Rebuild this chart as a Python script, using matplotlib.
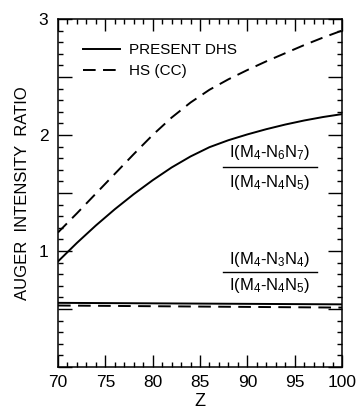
import matplotlib
matplotlib.use("Agg")
import matplotlib.pyplot as plt
from matplotlib.ticker import MultipleLocator, FixedLocator
from matplotlib.lines import Line2D

plt.rcParams['font.family'] = ['Liberation Sans', 'DejaVu Sans']
plt.rcParams['mathtext.fontset'] = 'custom'
plt.rcParams['mathtext.rm'] = 'Liberation Sans'
plt.rcParams['mathtext.it'] = 'Liberation Sans:italic'

# Atomic number
Z = [70, 72, 74, 76, 78, 80, 82, 84, 86, 88, 90, 92, 94, 96, 98, 100]
# I(M4-N6N7)/I(M4-N4N5)
dhs_67 = [0.91, 1.07, 1.22, 1.36, 1.49, 1.61, 1.72, 1.815, 1.895, 1.955,
          2.005, 2.05, 2.09, 2.125, 2.155, 2.18]
hs_67 = [1.16, 1.325, 1.495, 1.665, 1.835, 2.00, 2.15, 2.28, 2.39, 2.48,
         2.56, 2.635, 2.705, 2.775, 2.84, 2.90]
# I(M4-N3N4)/I(M4-N4N5)
Z_low = [70, 100]
dhs_34 = [0.553, 0.540]
hs_34 = [0.530, 0.512]

series_labels = ["PRESENT DHS", "HS (CC)"]
x_ticks = [70, 75, 80, 85, 90, 95, 100]
y_ticks = [1, 2, 3]

fig = plt.figure(figsize=(3.59, 4.13), dpi=100)
ax = fig.add_axes([0.1616, 0.1114, 0.791, 0.8426])

lw = 1.4
dash = (0, (6.5, 3.8))
ax.plot(Z, dhs_67, color='black', lw=lw, label=series_labels[0])
ax.plot(Z, hs_67, color='black', lw=lw, linestyle=dash, label=series_labels[1])
ax.plot(Z_low, dhs_34, color='black', lw=lw)
ax.plot(Z_low, hs_34, color='black', lw=lw, linestyle=dash)

ax.set_xlim(70, 100)
ax.set_ylim(0, 3)

ax.xaxis.set_major_locator(FixedLocator(x_ticks))
ax.xaxis.set_minor_locator(MultipleLocator(1))
ax.yaxis.set_minor_locator(MultipleLocator(0.1))
ax.set_xticklabels([str(v) for v in x_ticks])
half_steps = [0.5 * i for i in range(7)]
ax.set_yticks(half_steps)
ax.set_yticklabels([str(int(v)) if v in y_ticks else '' for v in half_steps])

ax.tick_params(which='both', direction='in', top=True, right=True, width=1.0,
               labelsize=12.5)
ax.tick_params(axis='x', which='major', length=8.5, pad=6)
ax.tick_params(axis='y', which='major', length=10, pad=7)
ax.tick_params(which='minor', length=3.6)
for s in ax.spines.values():
    s.set_linewidth(1.1)

ax.set_xlabel('Z', fontsize=13, labelpad=2)
ax.set_ylabel('AUGER  INTENSITY  RATIO', fontsize=12, labelpad=6)

ax.legend(loc='upper left', bbox_to_anchor=(0.04, 0.97), frameon=False,
          handlelength=2.4, handletextpad=0.6, labelspacing=0.45,
          fontsize=11)

# Ratio labels drawn as stacked fractions
def fraction(xc, ytop, ybar, ybot, num, den):
    ax.text(xc, ytop, num, ha='center', va='center', fontsize=12)
    ax.text(xc, ybot, den, ha='center', va='center', fontsize=12)
    ax.add_line(Line2D([xc - 5.0, xc + 5.0], [ybar, ybar], color='black', lw=1.0))

fraction(92.4, 1.85, 1.72, 1.59, r'I(M$_4$-N$_6$N$_7$)', r'I(M$_4$-N$_4$N$_5$)')
fraction(92.4, 0.93, 0.82, 0.70, r'I(M$_4$-N$_3$N$_4$)', r'I(M$_4$-N$_4$N$_5$)')

fig.savefig('out.png', dpi=100)
